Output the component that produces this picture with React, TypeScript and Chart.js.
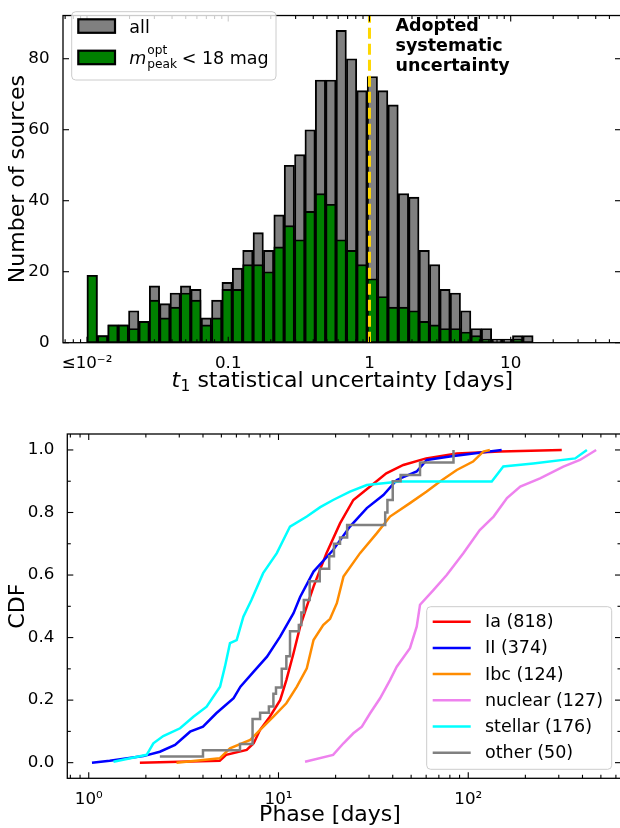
import React, { useEffect, useRef } from 'react';
import { Chart, registerables } from 'chart.js';
Chart.register(...registerables);

const FONT = '"DejaVu Sans", "Noto Sans", sans-serif';

// ---------------- Top panel: histogram of t1 statistical uncertainty ----------------
// log-spaced bins from 10^-2 to 10^1.6 (49 bins); first bin holds all values <= 1e-2
const BIN_LOG_LO = -2;
const BIN_LOG_HI = 1.6;
const N_BINS = 49;
const allCounts = [19, 2, 5, 5, 9, 6, 16, 11, 14, 16, 15, 7, 12, 17, 21, 26, 31, 26, 36, 50, 53, 60, 74, 74, 88, 80, 71, 75, 71, 67, 42, 41, 26, 22, 15, 14, 9, 4, 4, 1, 1, 2, 2, 0, 0, 0, 0, 0, 0];
const brightCounts = [19, 2, 5, 5, 4, 6, 12, 7, 10, 14, 12, 5, 7, 15, 15, 22, 22, 20, 27, 33, 29, 37, 42, 39, 29, 26, 22, 18, 13, 10, 10, 9, 6, 5, 4, 4, 3, 2, 1, 0, 0, 1, 0, 0, 0, 0, 0, 0, 0];
const topXTickValues = [0.01, 0.1, 1, 10];
const topXTickLabels = ['≤10⁻²', '0.1', '1', '10'];
const topYTickValues = [0, 20, 40, 60, 80];
const systematicUncertainty = 1; // days
const annotationLines = ['Adopted', 'systematic', 'uncertainty'];

// ---------------- Bottom panel: CDF of phase ----------------
const iaPhase = [1.86, 4.9, 5.3, 6.8, 7.4, 8.0, 9.0, 10.2, 11.0, 12.0, 13.0, 14.1, 15.3, 17.9, 21.1, 24.8, 30.4, 37, 45.5, 60, 87, 147, 311];
const iaCdf = [0, 0.006, 0.025, 0.041, 0.062, 0.105, 0.147, 0.2, 0.264, 0.35, 0.435, 0.5, 0.563, 0.67, 0.765, 0.84, 0.883, 0.925, 0.952, 0.973, 0.989, 0.995, 1.0];
const iiPhase = [1.04, 1.29, 1.94, 2.37, 2.85, 3.42, 4.0, 4.7, 5.8, 6.3, 7.4, 8.7, 10.2, 12.0, 13.0, 15.3, 19.4, 23.8, 29.2, 35.7, 42, 53.5, 60.4, 80, 120, 150];
const iiCdf = [0, 0.006, 0.021, 0.035, 0.057, 0.099, 0.115, 0.158, 0.206, 0.243, 0.291, 0.339, 0.403, 0.478, 0.53, 0.611, 0.68, 0.755, 0.814, 0.856, 0.904, 0.931, 0.968, 0.979, 0.993, 1.0];
const ibcPhase = [2.9, 4.9, 5.55, 7.1, 8.0, 9.4, 11, 12.5, 14.1, 15.3, 17.2, 18.7, 20.3, 22, 26.9, 33, 38.7, 49.3, 60.4, 71, 87, 106, 120, 130];
const ibcCdf = [0, 0.014, 0.046, 0.073, 0.105, 0.147, 0.19, 0.243, 0.302, 0.392, 0.44, 0.46, 0.51, 0.595, 0.67, 0.734, 0.787, 0.83, 0.867, 0.899, 0.936, 0.963, 0.995, 1.0];
const nuclearPhase = [13.8, 19.4, 22, 24.8, 27.5, 30.4, 34.3, 38.7, 42, 49.3, 53.5, 55.7, 65.5, 77, 94.2, 115, 136, 160, 188, 239, 317, 388, 472];
const nuclearCdf = [0.003, 0.025, 0.062, 0.094, 0.115, 0.158, 0.206, 0.264, 0.307, 0.366, 0.435, 0.505, 0.552, 0.6, 0.67, 0.744, 0.787, 0.846, 0.883, 0.909, 0.947, 0.968, 1.0];
const stellarPhase = [1.35, 2.02, 2.19, 2.47, 3.03, 3.56, 4.18, 4.92, 5.22, 5.55, 6.02, 6.53, 7.2, 8.3, 9.8, 11.5, 14.1, 16.6, 19.4, 23.8, 29.2, 43.7, 133, 153, 220, 366, 422];
const stellarCdf = [0.003, 0.025, 0.062, 0.085, 0.11, 0.147, 0.179, 0.243, 0.307, 0.382, 0.392, 0.467, 0.52, 0.606, 0.67, 0.755, 0.787, 0.817, 0.84, 0.867, 0.888, 0.899, 0.899, 0.947, 0.957, 0.973, 1.0];
const otherPhase = [2.37, 4.0, 6.27, 7.3, 8.0, 8.9, 9.4, 9.7, 10.4, 11.0, 11.5, 12.8, 13.2, 13.6, 14.6, 16.5, 18.5, 19.6, 21.1, 23, 36.5, 37.5, 40, 44, 55.7, 83.6];
const otherCdf = [0.02, 0.04, 0.06, 0.14, 0.16, 0.18, 0.22, 0.24, 0.3, 0.34, 0.42, 0.44, 0.48, 0.52, 0.58, 0.62, 0.66, 0.7, 0.72, 0.76, 0.8, 0.84, 0.9, 0.92, 0.96, 1.0];
const botXTickValues = [1, 10, 100];
const botXTickLabels = ['10⁰', '10¹', '10²'];
const botYTickValues = [0, 0.2, 0.4, 0.6, 0.8, 1.0];
const botYMinorValues = [0.1, 0.3, 0.5, 0.7, 0.9];

function logMinorTicks(loDecade: number, hiDecade: number) {
  const out: number[] = [];
  for (let d = loDecade; d <= hiDecade; d++) {
    for (let m = 2; m <= 9; m++) out.push(m * Math.pow(10, d));
  }
  return out;
}

type FrameCfg = {
  xMajor: number[]; xMinor: number[]; yMajor: number[]; yMinor: number[];
  color: string; majorLen: number; minorLen: number; tickWidth: number; spineWidth: number;
};

function drawFrame(chart: any, cfg: FrameCfg) {
  const { ctx, chartArea: a, scales } = chart;
  const xs = scales.x, ys = scales.y;
  ctx.save();
  ctx.strokeStyle = cfg.color;
  ctx.lineWidth = cfg.tickWidth;
  const seg = (x1: number, y1: number, x2: number, y2: number) => {
    ctx.beginPath(); ctx.moveTo(x1, y1); ctx.lineTo(x2, y2); ctx.stroke();
  };
  const xt = (vals: number[], len: number) => {
    for (const v of vals) {
      const p = xs.getPixelForValue(v);
      if (p < a.left - 0.5 || p > a.right + 0.5) continue;
      seg(p, a.bottom, p, a.bottom - len);
      seg(p, a.top, p, a.top + len);
    }
  };
  const yt = (vals: number[], len: number) => {
    for (const v of vals) {
      const p = ys.getPixelForValue(v);
      if (p < a.top - 0.5 || p > a.bottom + 0.5) continue;
      seg(a.left, p, a.left + len, p);
      seg(a.right, p, a.right - len, p);
    }
  };
  xt(cfg.xMajor, cfg.majorLen); xt(cfg.xMinor, cfg.minorLen);
  yt(cfg.yMajor, cfg.majorLen); yt(cfg.yMinor, cfg.minorLen);
  ctx.lineWidth = cfg.spineWidth;
  ctx.strokeRect(a.left, a.top, a.right - a.left, a.bottom - a.top);
  ctx.restore();
}

function roundRect(ctx: CanvasRenderingContext2D, x: number, y: number, w: number, h: number, r: number) {
  ctx.beginPath();
  ctx.moveTo(x + r, y);
  ctx.lineTo(x + w - r, y);
  ctx.quadraticCurveTo(x + w, y, x + w, y + r);
  ctx.lineTo(x + w, y + h - r);
  ctx.quadraticCurveTo(x + w, y + h, x + w - r, y + h);
  ctx.lineTo(x + r, y + h);
  ctx.quadraticCurveTo(x, y + h, x, y + h - r);
  ctx.lineTo(x, y + r);
  ctx.quadraticCurveTo(x, y, x + r, y);
  ctx.closePath();
}

function topConfig(): any {
  const step = (BIN_LOG_HI - BIN_LOG_LO) / N_BINS;
  const centers = allCounts.map((_, i) => Math.pow(10, BIN_LOG_LO + (i + 0.5) * step));
  const frame: FrameCfg = {
    xMajor: topXTickValues, xMinor: logMinorTicks(-3, 1), yMajor: topYTickValues, yMinor: [],
    color: '#000', majorLen: 6, minorLen: 3.5, tickWidth: 1.1, spineWidth: 1.3,
  };
  const plugin = {
    id: 'topDecor',
    afterDatasetsDraw(chart: any) {
      const { ctx, chartArea: a, scales } = chart;
      // dashed systematic line
      const px = scales.x.getPixelForValue(systematicUncertainty);
      ctx.save();
      ctx.strokeStyle = '#FFD700';
      ctx.lineWidth = 3;
      ctx.setLineDash([11, 5]);
      ctx.beginPath(); ctx.moveTo(px, a.bottom); ctx.lineTo(px, a.top); ctx.stroke();
      ctx.restore();
      // annotation
      ctx.save();
      ctx.fillStyle = '#000';
      ctx.font = `bold 17.5px ${FONT}`;
      ctx.textBaseline = 'middle';
      ctx.textAlign = 'left';
      annotationLines.forEach((t, i) => ctx.fillText(t, px + 26, 26.7 + i * 20));
      ctx.restore();
      drawFrame(chart, frame);
      // legend
      ctx.save();
      roundRect(ctx, 71.7, 11.7, 204.3, 68.3, 4);
      ctx.fillStyle = 'rgba(255,255,255,0.8)'; ctx.fill();
      ctx.strokeStyle = '#cccccc'; ctx.lineWidth = 1; ctx.stroke();
      const ds = chart.data.datasets;
      const patchY = [19.3, 50.7];
      ds.forEach((d: any, i: number) => {
        ctx.fillStyle = d.backgroundColor;
        ctx.fillRect(78.3, patchY[i], 36.7, 13.5);
        ctx.strokeStyle = '#000'; ctx.lineWidth = 2.2;
        ctx.strokeRect(78.3, patchY[i], 36.7, 13.5);
      });
      ctx.fillStyle = '#000';
      ctx.textBaseline = 'alphabetic';
      ctx.font = `17.5px ${FONT}`;
      ctx.fillText('all', 129.3, 32.5);
      ctx.font = `italic 17.5px ${FONT}`;
      ctx.fillText('m', 129.3, 63.5);
      const mw = ctx.measureText('m').width;
      ctx.font = `12.2px ${FONT}`;
      ctx.fillText('opt', 129.3 + mw + 1, 53.5);
      ctx.fillText('peak', 129.3 + mw + 1, 68);
      ctx.font = `17.5px ${FONT}`;
      ctx.fillText('< 18 mag', 181.7, 63.5);
      ctx.restore();
      // axis titles
      ctx.save();
      ctx.fillStyle = '#000';
      ctx.textBaseline = 'alphabetic';
      const t1 = 't', sub = '1', rest = ' statistical uncertainty [days]';
      ctx.font = `italic 22px ${FONT}`; const w1 = ctx.measureText(t1).width;
      ctx.font = `15.4px ${FONT}`; const w2 = ctx.measureText(sub).width;
      ctx.font = `22px ${FONT}`; const w3 = ctx.measureText(rest).width;
      const cx = (a.left + a.right) / 2;
      let x0 = cx - (w1 + w2 + w3) / 2;
      const base = 387;
      ctx.font = `italic 22px ${FONT}`; ctx.fillText(t1, x0, base); x0 += w1 + 0.5;
      ctx.font = `15.4px ${FONT}`; ctx.fillText(sub, x0, base + 4); x0 += w2;
      ctx.font = `22px ${FONT}`; ctx.fillText(rest, x0, base);
      ctx.translate(18.3, (a.top + a.bottom) / 2);
      ctx.rotate(-Math.PI / 2);
      ctx.textAlign = 'center'; ctx.textBaseline = 'middle';
      ctx.fillText('Number of sources', 0, 0);
      ctx.restore();
    },
  };
  return {
    type: 'bar',
    data: {
      datasets: [
        {
          label: 'all',
          data: centers.map((x, i) => ({ x, y: allCounts[i] })),
          backgroundColor: '#808080', borderColor: '#000', borderWidth: 1.9,
          borderSkipped: false, grouped: false, barPercentage: 1, categoryPercentage: 1, order: 1,
        },
        {
          label: 'bright',
          data: centers.map((x, i) => ({ x, y: brightCounts[i] })),
          backgroundColor: '#008000', borderColor: '#000', borderWidth: 1.9,
          borderSkipped: false, grouped: false, barPercentage: 1, categoryPercentage: 1, order: 0,
        },
      ],
    },
    options: {
      responsive: false, animation: false,
      layout: { padding: { left: 0, top: 3.5, right: 3, bottom: 0 } },
      plugins: { legend: { display: false }, tooltip: { enabled: false } },
      scales: {
        x: {
          type: 'logarithmic', min: Math.pow(10, -2.17), max: Math.pow(10, 1.781),
          grid: { display: false }, border: { display: false },
          afterBuildTicks: (s: any) => { s.ticks = topXTickValues.map((v) => ({ value: v })); },
          afterFit: (s: any) => { s.height = 400 - 342.7; },
          ticks: { callback: (_v: any, i: number) => topXTickLabels[i], font: { family: FONT, size: 16.7 }, color: '#000', padding: 3, maxRotation: 0, autoSkip: false },
        },
        y: {
          type: 'linear', min: 0, max: 92.17,
          grid: { display: false }, border: { display: false },
          afterBuildTicks: (s: any) => { s.ticks = topYTickValues.map((v) => ({ value: v })); },
          afterFit: (s: any) => { s.width = 63; },
          ticks: { callback: (v: any) => String(v), font: { family: FONT, size: 16.7 }, color: '#000', padding: 5.5 },
        },
      },
    },
    plugins: [plugin],
  };
}

function botConfig(): any {
  const series = [
    { label: 'Ia (818)', color: '#ff0000', px: iaPhase, py: iaCdf, stepped: false },
    { label: 'II (374)', color: '#0000ff', px: iiPhase, py: iiCdf, stepped: false },
    { label: 'Ibc (124)', color: '#ff8c00', px: ibcPhase, py: ibcCdf, stepped: false },
    { label: 'nuclear (127)', color: '#ee82ee', px: nuclearPhase, py: nuclearCdf, stepped: false },
    { label: 'stellar (176)', color: '#00ffff', px: stellarPhase, py: stellarCdf, stepped: false },
    { label: 'other (50)', color: '#808080', px: otherPhase, py: otherCdf, stepped: true },
  ];
  const frame: FrameCfg = {
    xMajor: botXTickValues, xMinor: logMinorTicks(-1, 2), yMajor: botYTickValues, yMinor: botYMinorValues,
    color: '#000', majorLen: 6, minorLen: 3.5, tickWidth: 1.1, spineWidth: 1.3,
  };
  const plugin = {
    id: 'botDecor',
    afterDatasetsDraw(chart: any) {
      const { ctx, chartArea: a } = chart;
      drawFrame(chart, frame);
      // legend
      ctx.save();
      roundRect(ctx, 426.7, 206.7, 185, 162.6, 4);
      ctx.fillStyle = 'rgba(255,255,255,0.8)'; ctx.fill();
      ctx.strokeStyle = '#cccccc'; ctx.lineWidth = 1; ctx.stroke();
      chart.data.datasets.forEach((d: any, i: number) => {
        const y = 221.7 + i * 26.2;
        ctx.strokeStyle = d.borderColor; ctx.lineWidth = 2.5;
        ctx.beginPath(); ctx.moveTo(432.7, y); ctx.lineTo(470.7, y); ctx.stroke();
        ctx.fillStyle = '#000';
        ctx.font = `17.5px ${FONT}`;
        ctx.textBaseline = 'middle'; ctx.textAlign = 'left';
        ctx.fillText(d.label, 485, y + 1);
      });
      ctx.restore();
      // axis titles
      ctx.save();
      ctx.fillStyle = '#000';
      ctx.font = `22px ${FONT}`;
      ctx.textAlign = 'center'; ctx.textBaseline = 'middle';
      ctx.fillText('Phase [days]', 330, 415);
      ctx.translate(18.3, (a.top + a.bottom) / 2);
      ctx.rotate(-Math.PI / 2);
      ctx.fillText('CDF', 0, 0);
      ctx.restore();
    },
  };
  return {
    type: 'line',
    data: {
      datasets: series.map((s, i) => ({
        label: s.label,
        data: s.px.map((x, j) => ({ x, y: s.py[j] })),
        borderColor: s.color, backgroundColor: s.color, borderWidth: 2.5,
        pointRadius: 0, fill: false, tension: 0, stepped: s.stepped, order: series.length - i,
      })),
    },
    options: {
      responsive: false, animation: false,
      layout: { padding: { left: 0, top: 34, right: 3, bottom: 0 } },
      plugins: { legend: { display: false }, tooltip: { enabled: false } },
      scales: {
        x: {
          type: 'logarithmic', min: Math.pow(10, -0.113), max: Math.pow(10, 2.805),
          grid: { display: false }, border: { display: false },
          afterBuildTicks: (s: any) => { s.ticks = botXTickValues.map((v) => ({ value: v })); },
          afterFit: (s: any) => { s.height = 428 - 378.3; },
          ticks: { callback: (_v: any, i: number) => botXTickLabels[i], font: { family: FONT, size: 16.7 }, color: '#000', padding: 3, maxRotation: 0, autoSkip: false },
        },
        y: {
          type: 'linear', min: -0.05, max: 1.051,
          grid: { display: false }, border: { display: false },
          afterBuildTicks: (s: any) => { s.ticks = botYTickValues.map((v) => ({ value: v })); },
          afterFit: (s: any) => { s.width = 67.3; },
          ticks: { callback: (v: any) => Number(v).toFixed(1), font: { family: FONT, size: 16.7 }, color: '#000', padding: 5 },
        },
      },
    },
    plugins: [plugin],
  };
}

export default function App() {
  const topRef = useRef<HTMLCanvasElement>(null);
  const botRef = useRef<HTMLCanvasElement>(null);
  useEffect(() => {
    const c1 = new Chart(topRef.current as HTMLCanvasElement, topConfig());
    const c2 = new Chart(botRef.current as HTMLCanvasElement, botConfig());
    return () => { c1.destroy(); c2.destroy(); };
  }, []);
  return (
    <div style={{ position: 'absolute', left: 0, top: 0, width: 620, height: 828, overflow: 'hidden', background: '#fff' }}>
      <canvas ref={topRef} width={624} height={400} style={{ position: 'absolute', left: 0, top: 0, width: 624, height: 400 }} />
      <canvas ref={botRef} width={624} height={428} style={{ position: 'absolute', left: 0, top: 400, width: 624, height: 428 }} />
    </div>
  );
}
